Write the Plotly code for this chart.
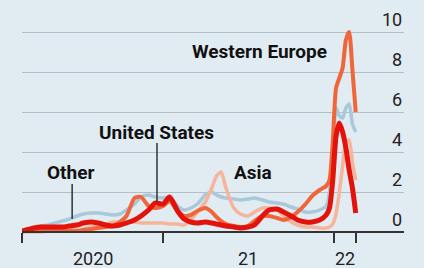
import plotly.graph_objects as go

dates = ["2020-03-06", "2020-04-01", "2020-04-15", "2020-05-01", "2020-05-15", "2020-06-01",
         "2020-06-15", "2020-07-01", "2020-07-15", "2020-08-01", "2020-08-15", "2020-09-01",
         "2020-09-15", "2020-10-01", "2020-10-15", "2020-11-01", "2020-11-15", "2020-12-01",
         "2020-12-15", "2021-01-01", "2021-01-15", "2021-02-01", "2021-02-15", "2021-03-01",
         "2021-03-15", "2021-04-01", "2021-04-15", "2021-04-25", "2021-05-05", "2021-05-15",
         "2021-06-01", "2021-06-15", "2021-07-01", "2021-07-15", "2021-08-01", "2021-08-15",
         "2021-09-01", "2021-09-15", "2021-10-01", "2021-10-15", "2021-11-01", "2021-11-15",
         "2021-12-01", "2021-12-15", "2021-12-22", "2021-12-29", "2022-01-05", "2022-01-12",
         "2022-01-19", "2022-01-26", "2022-02-02", "2022-02-09", "2022-02-16"]

united_states = [0.05, 0.2, 0.25, 0.25, 0.25, 0.25, 0.3, 0.35, 0.45, 0.5, 0.45, 0.35,
                 0.3, 0.35, 0.45, 0.6, 0.8, 1.1, 1.45, 1.4, 1.75, 1.05, 0.65, 0.5,
                 0.45, 0.5, 0.45, 0.4, 0.35, 0.3, 0.25, 0.2, 0.25, 0.35, 0.8, 1.1,
                 1.15, 1.0, 0.8, 0.6, 0.5, 0.5, 0.6, 0.85, 1.2, 2.6, 4.8, 5.45,
                 5.0, 4.2, 3.1, 2.2, 0.95]

western_europe = [0.05, 0.05, 0.05, 0.05, 0.05, 0.05, 0.05, 0.05, 0.1, 0.15, 0.2, 0.25,
                  0.3, 0.5, 0.8, 1.7, 1.75, 1.3, 1.2, 1.3, 1.55, 1.05, 0.8, 0.85,
                  1.05, 1.2, 1.0, 0.75, 0.55, 0.4, 0.3, 0.25, 0.3, 0.55, 0.8, 0.8,
                  0.7, 0.6, 0.75, 1.0, 1.4, 1.8, 2.1, 2.3, 2.6, 4.5, 7.2, 7.7,
                  8.2, 9.6, 10.0, 8.1, 6.0]

asia = [0.0, 0.0, 0.0, 0.05, 0.05, 0.1, 0.1, 0.1, 0.15, 0.25, 0.3, 0.4,
        0.5, 0.5, 0.5, 0.5, 0.45, 0.45, 0.45, 0.45, 0.4, 0.4, 0.35, 0.6,
        1.0, 1.5, 2.2, 2.8, 3.0, 2.2, 1.2, 0.9, 0.8, 1.0, 1.2, 1.2,
        1.1, 0.8, 0.5, 0.35, 0.25, 0.25, 0.2, 0.2, 0.25, 0.4, 0.9, 2.0,
        3.3, 4.5, 4.6, 3.5, 2.6]

other = [0.05, 0.2, 0.3, 0.35, 0.45, 0.55, 0.65, 0.8, 0.9, 0.95, 0.95, 0.9,
         0.85, 0.9, 1.1, 1.4, 1.75, 1.85, 1.75, 1.7, 1.75, 1.3, 1.1, 1.2,
         1.4, 1.85, 2.0, 1.85, 1.75, 1.7, 1.65, 1.6, 1.65, 1.7, 1.6, 1.5,
         1.45, 1.4, 1.25, 1.15, 1.0, 1.0, 1.1, 1.3, 2.0, 4.0, 6.2, 5.8,
         5.7, 6.2, 6.4, 5.4, 5.0]

y_ticks = [0, 2, 4, 6, 8, 10]
x_ticks = ["2020-03-06", "2021-01-01", "2022-01-01", "2022-02-16"]
x_labels = [("2020-08-04", "2020"), ("2021-07-01", "21"), ("2022-01-24", "22")]

BG = "#e1ebf2"
GRID = "#b4bec6"
AXIS = "#333333"
FONT = "Roboto"

fig = go.Figure()
series = [
    ("Other", other, "#a9c8d9", 3.5),
    ("Asia", asia, "#f6b59b", 3.5),
    ("Western Europe", western_europe, "#f0653a", 4),
    ("United States", united_states, "#e3120b", 5),
]
for name, vals, color, w in series:
    fig.add_trace(go.Scatter(x=dates, y=vals, mode="lines", name=name,
                             line=dict(color=color, width=w, shape="spline", smoothing=0.6),
                             hoverinfo="skip"))

fig.update_layout(
    width=424, height=268,
    margin=dict(l=22, r=20, t=8, b=26),
    paper_bgcolor=BG, plot_bgcolor=BG,
    showlegend=False,
    font=dict(family=FONT, color="#111111"),
    xaxis=dict(
        type="date", range=["2020-03-06", "2022-05-30"],
        tickvals=x_ticks, showticklabels=False,
        ticks="outside", ticklen=10, tickwidth=1.5, tickcolor=AXIS,
        showline=True, linecolor=AXIS, linewidth=2,
        showgrid=False, zeroline=False,
        anchor="free", position=0.5 / 11.7,
    ),
    yaxis=dict(
        range=[-0.5, 11.2], tickvals=y_ticks[1:], showticklabels=False,
        showgrid=True, gridcolor=GRID, gridwidth=1.2, zeroline=False,
    ),
)

for v in y_ticks:
    fig.add_annotation(x=1, xref="paper", y=v, yref="y", text=str(v),
                       xanchor="right", yanchor="bottom", yshift=0, showarrow=False,
                       font=dict(family=FONT, size=18, color="#222222"))

for d, t in x_labels:
    fig.add_annotation(x=d, xref="x", y=-0.0726, yref="paper", text=t,
                       xanchor="center", yanchor="middle", showarrow=False,
                       font=dict(family=FONT, size=18, color="#222222"))

labels = [("Western Europe", 0.623, 0.812), ("United States", 0.353, 0.470),
          ("Other", 0.126, 0.299), ("Asia", 0.605, 0.299)]
for t, xp, yp in labels:
    fig.add_annotation(x=xp, xref="paper", y=yp, yref="paper", text="<b>" + t + "</b>",
                       xanchor="center", yanchor="middle", showarrow=False,
                       font=dict(family=FONT, size=19, color="#111111"))

fig.add_shape(type="line", xref="x", yref="y", x0="2020-12-19", x1="2020-12-19",
              y0=4.45, y1=1.5, line=dict(color=AXIS, width=1.5))
fig.add_shape(type="line", xref="x", yref="y", x0="2020-06-21", x1="2020-06-21",
              y0=2.4, y1=0.65, line=dict(color=AXIS, width=1.5))

fig.write_html("out.html", config={"displayModeBar": False},
               post_script="document.body.style.margin='0';document.body.style.background='" + BG + "';")
